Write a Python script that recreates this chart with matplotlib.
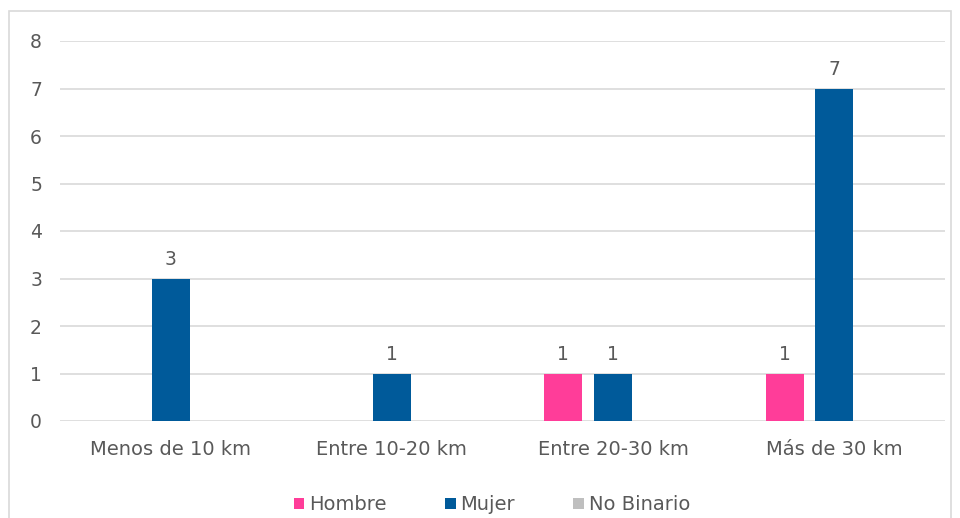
import matplotlib
matplotlib.use("Agg")
import matplotlib.pyplot as plt
import numpy as np
from matplotlib.patches import Rectangle

categories = ["Menos de 10 km", "Entre 10-20 km", "Entre 20-30 km", "Más de 30 km"]
series_names = ["Hombre", "Mujer", "No Binario"]
hombre = [0, 0, 1, 1]
mujer = [3, 1, 1, 7]
no_binario = [0, 0, 0, 0]
yticks = [0, 1, 2, 3, 4, 5, 6, 7, 8]

colors = ["#FF3D99", "#005A9A", "#BFBFBF"]
txt = "#595959"
plt.rcParams['font.family'] = ['DejaVu Sans']

fig = plt.figure(figsize=(9.6, 5.18), dpi=100)
fig.patches.append(Rectangle((9/960, -0.1), (951-9)/960, 1.1 - 11/518, transform=fig.transFigure,
                             fill=False, edgecolor="#D9D9D9", linewidth=1.2))
ax = fig.add_axes([60/960, 1-421/518, 885/960, (421-41)/518])

x = np.arange(len(categories))
w = 0.172
off = 0.225
data = [hombre, mujer, no_binario]
for i, (vals, name, c) in enumerate(zip(data, series_names, colors)):
    xs = x + (i-1)*off
    ax.bar(xs, vals, width=w, color=c, label=name, zorder=3)
    for xi, v in zip(xs, vals):
        if v:
            ax.text(xi, v + 0.2, str(v), ha="center", va="bottom", fontsize=13.5, color=txt)

ax.set_xlim(-0.5, len(categories)-0.5)
ax.set_ylim(0, 8)
ax.set_yticks(yticks)
ax.set_yticklabels([str(t) for t in yticks], fontsize=13.5, color=txt)
ax.set_xticks(x)
ax.set_xticklabels(categories, fontsize=14, color=txt)
ax.tick_params(axis="both", length=0)
ax.tick_params(axis="y", pad=13)
ax.tick_params(axis="x", pad=14)
ax.grid(axis="y", color="#D9D9D9", linewidth=1.2, zorder=0)
for s in ax.spines.values():
    s.set_visible(False)

leg = fig.legend(loc="center", bbox_to_anchor=(492/960, 1-505/518), ncol=3, frameon=False,
                 fontsize=14, handlelength=0.55, handleheight=0.55, handletextpad=0.25,
                 columnspacing=3.0, labelcolor=txt)

fig.savefig("out.png", dpi=100)
